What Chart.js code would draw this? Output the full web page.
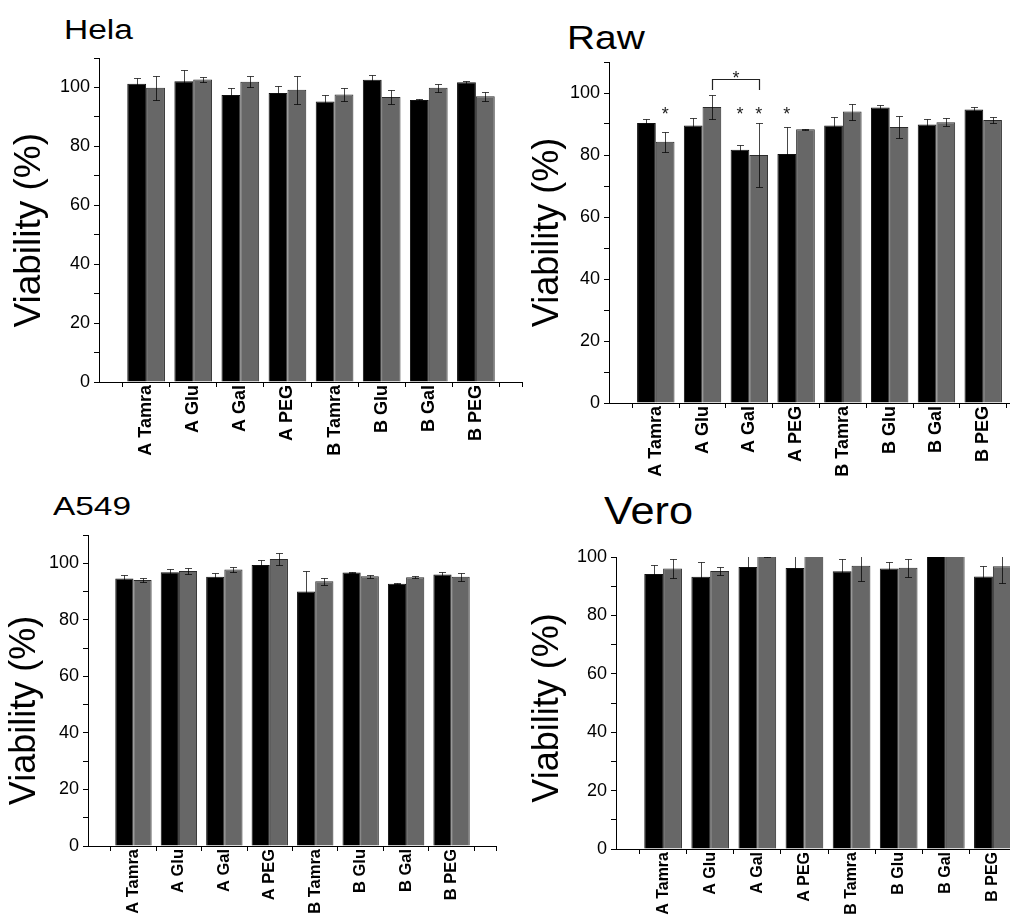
<!DOCTYPE html>
<html>
<head>
<meta charset="utf-8">
<script src="https://cdn.jsdelivr.net/npm/chart.js@4.4.0/dist/chart.umd.min.js"></script>
<style>
  body { margin: 0; width: 1010px; height: 918px; overflow: hidden; background: #fff; position: relative;
         font-family: "Liberation Sans", Arial, sans-serif; }
  .ttl { position: absolute; line-height: 1; white-space: nowrap; transform-origin: 0 0; color: #000; }
  canvas { position: absolute; }
</style>
</head>
<body>
<div class="ttl" style="left:64px;top:17px;font-size:27px;transform:scaleX(1.24)">Hela</div>
<div class="ttl" style="left:567px;top:21px;font-size:33.5px;transform:scaleX(1.16)">Raw</div>
<div class="ttl" style="left:53px;top:493px;font-size:26.5px;transform:scaleX(1.26)">A549</div>
<div class="ttl" style="left:604px;top:492px;font-size:38px;transform:scaleX(1.14)">Vero</div>

<canvas id="hela" width="512" height="434" style="left:11px;top:43px"></canvas>
<canvas id="raw" width="500" height="451" style="left:530px;top:47px"></canvas>
<canvas id="a549" width="490" height="421" style="left:7px;top:520px"></canvas>
<canvas id="vero" width="510" height="402" style="left:530px;top:542px"></canvas>

<script>
const categories = ["A Tamra", "A Glu", "A Gal", "A PEG", "B Tamra", "B Glu", "B Gal", "B PEG"];

// Hela
const helaBlack    = [101.3, 102.1, 97.4, 98.1, 95.2, 102.6, 95.7, 101.8];
const helaBlackErr = [2.0, 3.7, 2.4, 2.4, 2.1, 1.6, 0.4, 0.5];
const helaGray     = [99.9, 102.7, 101.9, 99.2, 97.6, 96.8, 99.9, 97.0];
const helaGrayErr  = [4.0, 1.0, 1.9, 4.8, 2.3, 2.4, 1.3, 1.5];

// Raw
const rawBlack    = [90.3, 89.5, 81.7, 80.3, 89.5, 95.3, 89.8, 94.7];
const rawBlackErr = [1.3, 2.3, 1.6, 8.8, 2.9, 0.9, 1.9, 0.9];
const rawGray     = [84.3, 95.5, 80.0, 88.3, 94.0, 89.0, 90.6, 91.3];
const rawGrayErr  = [3.2, 3.8, 10.4, 0.2, 2.6, 3.6, 1.2, 0.9];

// A549
const a549Black    = [94.6, 96.8, 95.2, 99.4, 90.0, 96.7, 92.8, 96.0];
const a549BlackErr = [1.2, 1.1, 1.4, 1.6, 7.4, 0.3, 0.3, 1.0];
const a549Gray     = [94.1, 97.3, 97.8, 101.5, 93.6, 95.4, 95.1, 95.2];
const a549GrayErr  = [0.8, 1.0, 0.9, 2.1, 1.2, 0.6, 0.4, 1.4];

// Vero (axis stops at 100, taller bars are cut)
const veroBlack    = [94.2, 93.2, 96.6, 96.2, 95.1, 96.1, 103.0, 93.3];
const veroBlackErr = [3.2, 5.2, 4.5, 4.5, 4.1, 2.2, 3.0, 3.5];
const veroGray     = [96.1, 95.2, 103.0, 104.0, 97.0, 96.3, 103.5, 96.8];
const veroGrayErr  = [3.3, 1.5, 3.0, 3.0, 5.2, 3.0, 3.0, 5.6];

// significance marks on Raw: [category index, series index]
const rawStars = [[0, 1], [2, 0], [2, 1], [3, 0]];
const rawStarLevel = 94.5;
const rawBracket = { from: [1, 1], to: [2, 1], level: 104.4, leg: 101.0, star: 106.3 };

Chart.defaults.font.family = "'Liberation Sans', Arial, sans-serif";
Chart.defaults.color = "#000";

const errorBars = {
    id: "errorBars",
    afterDatasetsDraw(chart) {
        const ctx = chart.ctx;
        const area = chart.chartArea;
        const y = chart.scales.y;
        const x = chart.scales.x;
        ctx.save();
        ctx.beginPath();
        ctx.rect(area.left, area.top, area.right - area.left, area.bottom - area.top);
        ctx.clip();
        ctx.strokeStyle = "rgba(0,0,0,0.72)";
        ctx.lineWidth = 1;
        chart.data.datasets.forEach((ds, d) => {
            const meta = chart.getDatasetMeta(d);
            meta.data.forEach((bar, i) => {
                const v = ds.data[i].y, e = ds.errors[i];
                const px = Math.round(bar.x) + 0.5;
                const top = Math.round(y.getPixelForValue(v + e)) + 0.5;
                const bot = Math.round(y.getPixelForValue(v - e)) + 0.5;
                ctx.beginPath();
                ctx.moveTo(px, top); ctx.lineTo(px, bot);
                ctx.moveTo(px - 3.5, top); ctx.lineTo(px + 3.5, top);
                ctx.moveTo(px - 3.5, bot); ctx.lineTo(px + 3.5, bot);
                ctx.stroke();
            });
        });
        ctx.restore();
        // tick at the right end of the x axis
        ctx.save();
        ctx.strokeStyle = "#000";
        ctx.lineWidth = 1;
        const ex = Math.round(x.getPixelForValue(x.max)) - 0.5;
        ctx.beginPath();
        ctx.moveTo(ex, area.bottom); ctx.lineTo(ex, area.bottom + 5);
        ctx.stroke();
        ctx.restore();
    }
};

const rawMarks = {
    id: "rawMarks",
    afterDatasetsDraw(chart) {
        const ctx = chart.ctx;
        const y = chart.scales.y;
        const barX = (c, s) => chart.getDatasetMeta(s).data[c].x;
        ctx.save();
        ctx.fillStyle = "#222";
        ctx.font = "18px 'Liberation Sans', Arial, sans-serif";
        ctx.textAlign = "center";
        ctx.textBaseline = "alphabetic";
        rawStars.forEach(([c, s]) => {
            ctx.fillText("*", barX(c, s), y.getPixelForValue(rawStarLevel) + 0.57 * 18);
        });
        const x1 = Math.round(barX(rawBracket.from[0], rawBracket.from[1])) + 0.5;
        const x2 = Math.round(barX(rawBracket.to[0], rawBracket.to[1])) + 0.5;
        const yl = Math.round(y.getPixelForValue(rawBracket.level)) + 0.5;
        const yg = y.getPixelForValue(rawBracket.leg);
        ctx.strokeStyle = "#222";
        ctx.lineWidth = 1.2;
        ctx.beginPath();
        ctx.moveTo(x1, yg); ctx.lineTo(x1, yl); ctx.lineTo(x2, yl); ctx.lineTo(x2, yg);
        ctx.stroke();
        ctx.fillText("*", (x1 + x2) / 2, y.getPixelForValue(rawBracket.star) + 0.57 * 18);
        ctx.restore();
    }
};

function makePanel(id, black, blackErr, gray, grayErr, cfg) {
    const pts = arr => arr.map((v, i) => ({ x: i + 1, y: v }));
    return new Chart(document.getElementById(id), {
        type: "bar",
        data: {
            datasets: [
                { data: pts(black), errors: blackErr, backgroundColor: "#000", borderColor: "#111", borderWidth: 1, clip: 0 },
                { data: pts(gray), errors: grayErr, backgroundColor: "#676767", borderColor: "#2b2b2b", borderWidth: 1, clip: 0 }
            ]
        },
        options: {
            responsive: false,
            animation: false,
            layout: { padding: { top: 15, right: 0, bottom: 0, left: 0 } },
            datasets: { bar: { categoryPercentage: 0.8, barPercentage: 1.0 } },
            plugins: { legend: { display: false }, tooltip: { enabled: false } },
            scales: {
                x: {
                    type: "linear", min: 0, max: 9, offset: false,
                    afterBuildTicks: a => { a.ticks = categories.map((c, i) => ({ value: i + 1 })); },
                    afterFit: a => { a.height = 95; },
                    grid: { offset: true, drawOnChartArea: false, tickLength: 5, color: "#000" },
                    border: { color: "#000", width: 1 },
                    ticks: {
                        autoSkip: false, minRotation: 90, maxRotation: 90, padding: -2,
                        font: { size: cfg.labelSize, weight: "bold" },
                        callback: (v, i) => categories[i]
                    }
                },
                y: {
                    min: 0, max: cfg.yMax,
                    afterFit: a => { a.width = cfg.yw; },
                    grid: { drawOnChartArea: false, tickLength: 5, color: "#000" },
                    border: { color: "#000", width: 1 },
                    ticks: { stepSize: 10, padding: 4, font: { size: 18 },
                             callback: v => (v % 20 === 0 ? v : "") },
                    title: { display: true, text: "Viability (%)" + " ".repeat(cfg.shift),
                             padding: 0, font: { size: cfg.titleSize, lineHeight: 1 } }
                }
            }
        },
        plugins: cfg.marks ? [errorBars, rawMarks] : [errorBars]
    });
}

makePanel("hela", helaBlack, helaBlackErr, helaGray, helaGrayErr, { yMax: 110, yw: 88, titleSize: 37, shift: 2, labelSize: 18 });
makePanel("raw", rawBlack, rawBlackErr, rawGray, rawGrayErr, { yMax: 110, yw: 79, titleSize: 36, shift: 0, labelSize: 18, marks: true });
makePanel("a549", a549Black, a549BlackErr, a549Gray, a549GrayErr, { yMax: 110, yw: 81, titleSize: 36, shift: 4, labelSize: 16.5 });
makePanel("vero", veroBlack, veroBlackErr, veroGray, veroGrayErr, { yMax: 100, yw: 86, titleSize: 36, shift: 1, labelSize: 16 });
</script>
</body>
</html>
